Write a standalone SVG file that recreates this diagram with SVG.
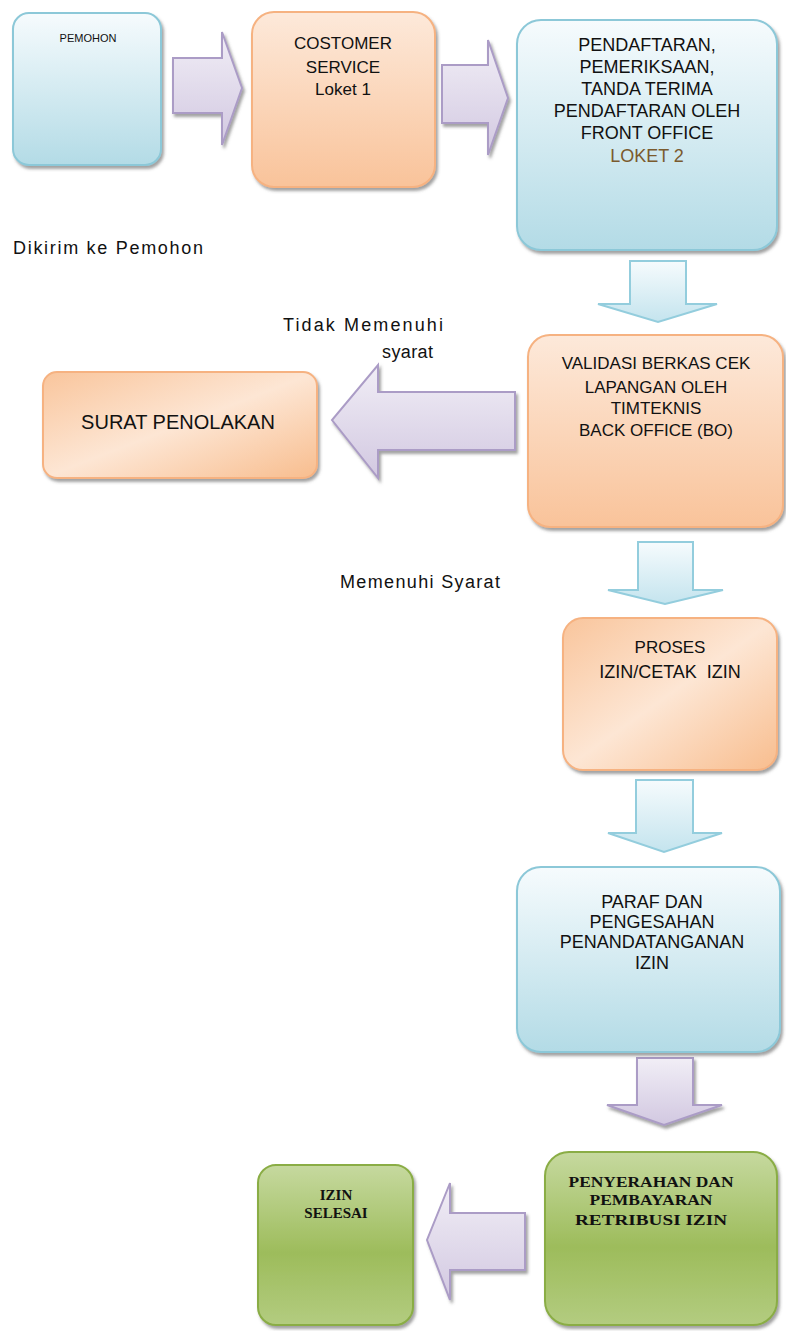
<svg xmlns="http://www.w3.org/2000/svg" width="786" height="1331" viewBox="0 0 786 1331">
<defs>
<linearGradient id="gBlue" x1="0" y1="0" x2="0" y2="1">
<stop offset="0" stop-color="#f6fbfd"/><stop offset="1" stop-color="#b3dbe6"/>
</linearGradient>
<linearGradient id="gOrange" x1="0" y1="0" x2="1" y2="1">
<stop offset="0" stop-color="#f9c59c"/><stop offset="0.5" stop-color="#fde6d4"/><stop offset="1" stop-color="#f8bd8e"/>
</linearGradient>
<linearGradient id="gOrangeV" x1="0" y1="0" x2="0" y2="1">
<stop offset="0" stop-color="#fde9da"/><stop offset="1" stop-color="#f9c39a"/>
</linearGradient>
<linearGradient id="gGreen" x1="0" y1="0" x2="0" y2="1">
<stop offset="0" stop-color="#c6d99f"/><stop offset="0.55" stop-color="#9dbc5b"/><stop offset="1" stop-color="#b3cc80"/>
</linearGradient>
<linearGradient id="gPurple" x1="0" y1="0" x2="0" y2="1">
<stop offset="0" stop-color="#f1eef6"/><stop offset="1" stop-color="#d2c8e1"/>
</linearGradient>
<linearGradient id="gArrowBlue" x1="0" y1="0" x2="0" y2="1">
<stop offset="0" stop-color="#f6fbfd"/><stop offset="1" stop-color="#c4e4ee"/>
</linearGradient>
<filter id="sh" x="-10%" y="-10%" width="125%" height="125%">
<feDropShadow dx="2" dy="3" stdDeviation="1.5" flood-color="#555" flood-opacity="0.55"/>
</filter>
</defs>
<style>
.blue{fill:url(#gBlue);stroke:#8cc8d8;stroke-width:2;filter:url(#sh)}
.orange{fill:url(#gOrange);stroke:#f6b281;stroke-width:2;filter:url(#sh)}
.orangeV{fill:url(#gOrangeV);stroke:#f6b281;stroke-width:2;filter:url(#sh)}
.green{fill:url(#gGreen);stroke:#8aad45;stroke-width:2;filter:url(#sh)}
.pArrow{fill:url(#gPurple);stroke:#ab9cc6;stroke-width:2;filter:url(#sh)}
.bArrow{fill:url(#gArrowBlue);stroke:#93cddd;stroke-width:2}
.t{font-family:"Liberation Sans",Arial,sans-serif;font-size:17px;fill:#111;text-anchor:middle}
.t18{font-size:18px}
.ts{font-family:"Liberation Serif","Times New Roman",serif;font-weight:bold;font-size:15px;fill:#111;text-anchor:middle}
.lbl{font-family:"Liberation Sans",Arial,sans-serif;font-size:18px;fill:#111}
</style>

<g id="connectors">
<polygon class="pArrow" points="173,58 222,58 222,32 242,88 222,145 222,113 173,113"/>
<polygon class="pArrow" points="442,65 488,65 488,40 508,98 488,155 488,123 442,123"/>
<polygon class="bArrow" points="630,261 686,261 686,304 717,304 658,322 598,304 630,304"/>
<polygon class="pArrow" points="515,392 378,392 378,365 332,420 378,478 378,450 515,450"/>
<polygon class="bArrow" points="638,542 693,542 693,590 723,590 665,604 608,590 638,590"/>
<polygon class="bArrow" points="636,780 693,780 693,833 722,833 664,852 608,833 636,833"/>
<polygon class="pArrow" points="637,1058 693,1058 693,1105 722,1105 664,1125 607,1105 637,1105"/>
<polygon class="pArrow" points="525,1213 450,1213 450,1183 427,1240 450,1300 450,1270 525,1270"/>
<text class="lbl" x="13" y="254" textLength="190" lengthAdjust="spacing">Dikirim ke Pemohon</text>
<text class="lbl" x="283" y="331" textLength="160" lengthAdjust="spacing">Tidak Memenuhi</text>
<text class="lbl" x="382" y="358" textLength="51" lengthAdjust="spacing">syarat</text>
<text class="lbl" x="340" y="588" textLength="160" lengthAdjust="spacing">Memenuhi Syarat</text>
</g>

<g id="pemohon">
<rect class="blue" x="13" y="13" width="148" height="152" rx="16"/>
<text class="t" x="88" y="42" style="font-size:11px">PEMOHON</text>
</g>

<g id="customer-service">
<rect class="orangeV" x="252" y="12" width="183" height="175" rx="22"/>
<text class="t" x="343" y="49">COSTOMER</text>
<text class="t" x="343" y="73">SERVICE</text>
<text class="t" x="343" y="95">Loket 1</text>
</g>

<g id="pendaftaran">
<rect class="blue" x="517" y="20" width="260" height="230" rx="24"/>
<text class="t t18" x="647" y="51">PENDAFTARAN,</text>
<text class="t t18" x="647" y="73">PEMERIKSAAN,</text>
<text class="t t18" x="647" y="95">TANDA TERIMA</text>
<text class="t t18" x="647" y="117">PENDAFTARAN OLEH</text>
<text class="t t18" x="647" y="139">FRONT OFFICE</text>
<text class="t t18" x="647" y="162" style="fill:#7a5a2e">LOKET 2</text>
</g>

<g id="surat-penolakan">
<rect class="orange" x="43" y="372" width="274" height="106" rx="14"/>
<text class="t" x="178" y="429" style="font-size:20px">SURAT PENOLAKAN</text>
</g>

<g id="validasi">
<rect class="orangeV" x="528" y="335" width="255" height="192" rx="22"/>
<text class="t" x="656" y="369">VALIDASI BERKAS CEK</text>
<text class="t" x="656" y="393">LAPANGAN OLEH</text>
<text class="t" x="656" y="414">TIMTEKNIS</text>
<text class="t" x="656" y="436">BACK OFFICE (BO)</text>
</g>

<g id="proses">
<rect class="orange" x="563" y="618" width="214" height="152" rx="20"/>
<text class="t" x="670" y="653">PROSES</text>
<text class="t t18" x="670" y="678" xml:space="preserve">IZIN/CETAK  IZIN</text>
</g>

<g id="paraf">
<rect class="blue" x="517" y="867" width="263" height="185" rx="24"/>
<text class="t t18" x="652" y="908">PARAF DAN</text>
<text class="t t18" x="652" y="928">PENGESAHAN</text>
<text class="t t18" x="652" y="948">PENANDATANGANAN</text>
<text class="t t18" x="652" y="969">IZIN</text>
</g>

<g id="penyerahan">
<rect class="green" x="545" y="1152" width="232" height="173" rx="24"/>
<text class="ts" x="651" y="1187" textLength="165" lengthAdjust="spacingAndGlyphs">PENYERAHAN DAN</text>
<text class="ts" x="651" y="1205" textLength="123" lengthAdjust="spacingAndGlyphs">PEMBAYARAN</text>
<text class="ts" x="651" y="1225" textLength="152" lengthAdjust="spacingAndGlyphs">RETRIBUSI IZIN</text>
</g>

<g id="izin-selesai">
<rect class="green" x="258" y="1165" width="155" height="160" rx="18"/>
<text class="ts" x="336" y="1200">IZIN</text>
<text class="ts" x="336" y="1218">SELESAI</text>
</g>
</svg>
